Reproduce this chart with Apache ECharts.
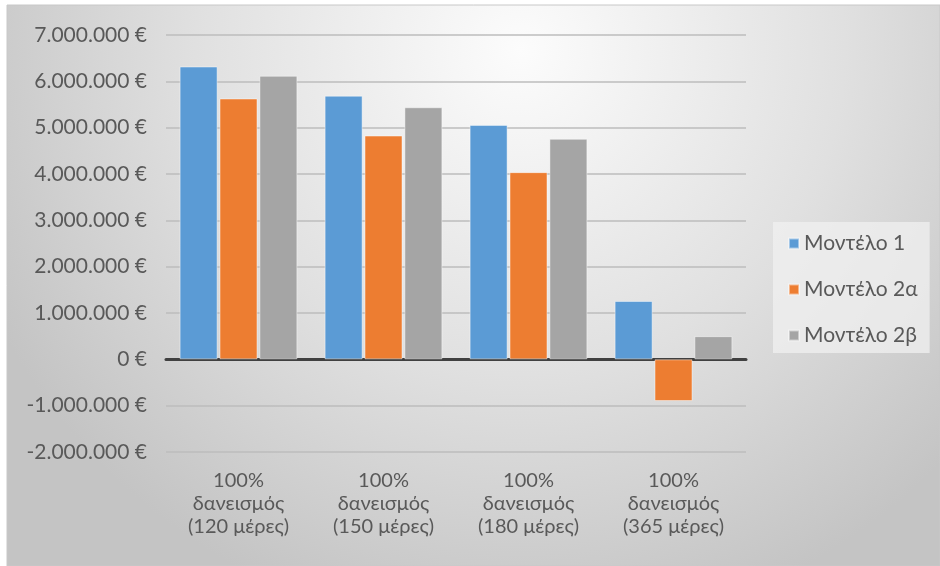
<!DOCTYPE html>
<html>
<head>
<meta charset="utf-8">
<script src="https://cdn.jsdelivr.net/npm/echarts@6/dist/echarts.min.js"></script>
<style>
html,body{margin:0;padding:0;background:#fff;}
#chart{width:940px;height:566px;}
</style>
</head>
<body>
<div id="chart"></div>
<script>
var categories = [
  "100%\nδανεισμός\n(120 μέρες)",
  "100%\nδανεισμός\n(150 μέρες)",
  "100%\nδανεισμός\n(180 μέρες)",
  "100%\nδανεισμός\n(365 μέρες)"
];
var seriesNames = ["Μοντέλο 1", "Μοντέλο 2α", "Μοντέλο 2β"];
var model1 = [6320000, 5690000, 5060000, 1260000];
var model2a = [5630000, 4830000, 4040000, -900000];
var model2b = [6120000, 5440000, 4760000, 500000];
var yMin = -2000000, yMax = 7000000, yStep = 1000000;

function fmtEuro(v) {
  var s = Math.abs(v).toFixed(0).replace(/\B(?=(\d{3})+(?!\d))/g, ".");
  return (v < 0 ? "-" : "") + s + " €";
}

var colors = ["#5B9BD5", "#ED7D31", "#A5A5A5"];
var font = "Lato, 'Open Sans', sans-serif";
var chart = echarts.init(document.getElementById("chart"));
function bar(name, data, i) {
  return {
    name: name, type: "bar", data: data, barWidth: 38, barGap: "5%",
    itemStyle: { color: colors[i], borderColor: "rgba(255,255,255,0.45)", borderWidth: 1 }
  };
}
chart.setOption({
  animation: false,
  textStyle: { fontFamily: font },
  graphic: { elements: [{
    type: "rect", z: -10, silent: true,
    shape: { x: 7, y: 5, width: 933, height: 561 },
    style: {
      fill: { type: "radial", x: 0.55, y: 0.08, r: 1.05,
        colorStops: [{ offset: 0, color: "#fcfcfc" }, { offset: 0.55, color: "#e0e0e0" }, { offset: 1, color: "#c4c4c4" }] },
      stroke: "#c8c8c8", lineWidth: 1
    }
  }]},
  grid: { left: 166, right: 194, top: 35, bottom: 114 },
  legend: {
    orient: "vertical", left: 773, top: 222, itemWidth: 10, itemHeight: 10, icon: "rect",
    itemGap: 25, padding: [11, 12, 7, 15], backgroundColor: "rgba(240,240,240,0.75)",
    textStyle: { color: "#595959", fontSize: 21, fontFamily: font },
    data: seriesNames
  },
  xAxis: {
    type: "category", data: categories,
    axisLine: { onZero: true, lineStyle: { color: "#404040", width: 3 } },
    axisTick: { show: false },
    axisLabel: { color: "#595959", fontSize: 20, lineHeight: 23, margin: 17, interval: 0, fontFamily: font }
  },
  yAxis: {
    type: "value", min: yMin, max: yMax, interval: yStep,
    axisLine: { show: false }, axisTick: { show: false },
    splitLine: { lineStyle: { color: "#bdbdbd", width: 1.5 } },
    axisLabel: { color: "#595959", fontSize: 21, margin: 19, formatter: fmtEuro, fontFamily: font }
  },
  series: [bar(seriesNames[0], model1, 0), bar(seriesNames[1], model2a, 1), bar(seriesNames[2], model2b, 2)]
});
</script>
</body>
</html>
